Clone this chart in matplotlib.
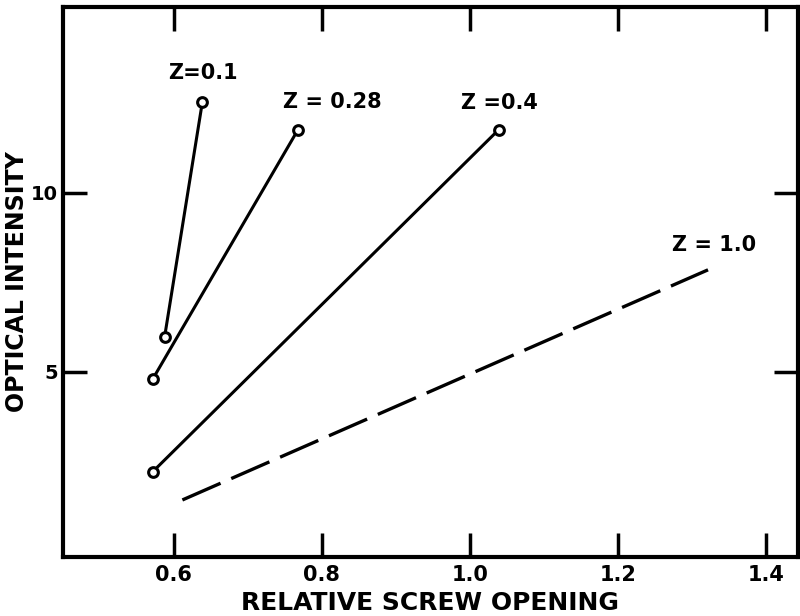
import matplotlib.pyplot as plt

# curves: relative screw opening vs optical intensity
x_01 = [0.588, 0.639]
y_01 = [5.98, 12.54]
x_028 = [0.572, 0.768]
y_028 = [4.80, 11.76]
x_04 = [0.572, 1.039]
y_04 = [2.21, 11.76]
x_10 = [0.612, 1.322]
y_10 = [1.42, 7.85]

xticks = [0.6, 0.8, 1.0, 1.2, 1.4]
xtick_labels = ['0.6', '0.8', '1.0', '1.2', '1.4']
yticks = [5, 10]

plt.rcParams['font.family'] = ['DejaVu Sans']
plt.rcParams['font.weight'] = 'bold'

fig = plt.figure(figsize=(8, 6.16), dpi=100)
ax = fig.add_axes([0.079, 0.096, 0.918, 0.893])

for xs, ys in [(x_01, y_01), (x_028, y_028), (x_04, y_04)]:
    ax.plot(xs, ys, color='black', lw=2.2, marker='o', ms=7,
            mfc='white', mec='black', mew=2.2)
ax.plot(x_10, y_10, color='black', lw=2.4, dashes=(12.5, 3.5))

lbl = dict(fontsize=15, ha='center', va='center', fontweight='bold')
ax.text(0.64, 13.35, 'Z=0.1', **lbl)
ax.text(0.815, 12.55, 'Z = 0.28', **lbl)
ax.text(1.04, 12.5, 'Z =0.4', **lbl)
ax.text(1.33, 8.55, 'Z = 1.0', **lbl)

ax.set_xlim(0.451, 1.443)
ax.set_ylim(-0.17, 15.2)
ax.set_xticks(xticks)
ax.set_xticklabels(xtick_labels)
ax.set_yticks(yticks)
ax.tick_params(direction='in', length=17, width=2.5, top=True, right=True)
ax.tick_params(axis='x', pad=6, labelsize=15)
ax.tick_params(axis='y', pad=4, labelsize=14)
for s in ax.spines.values():
    s.set_linewidth(3)

ax.set_xlabel('RELATIVE SCREW OPENING', fontsize=18, fontweight='bold')
ax.set_ylabel('OPTICAL INTENSITY', fontsize=17, fontweight='bold')
ax.xaxis.set_label_coords(0.5, -0.062)
ax.yaxis.set_label_coords(-0.047, 0.5)

plt.savefig('out.png', dpi=100)
